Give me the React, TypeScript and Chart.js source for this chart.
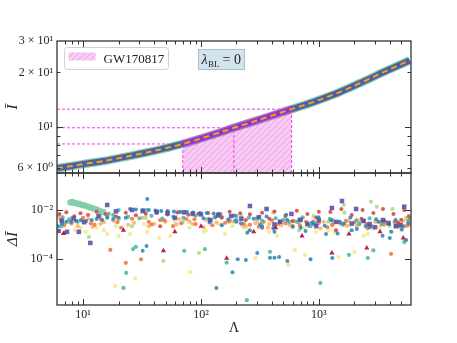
import React, { useEffect, useRef } from "react";
import { Chart, registerables } from "chart.js";

Chart.register(...registerables);

const W = 457;
const H = 343;
const SERIF = "'Liberation Serif', 'DejaVu Serif', 'Times New Roman', serif";

// axis limits
const X_MIN = 6;
const X_MAX = 6050;
const YT_MIN = 5.6;
const YT_MAX = 29.8;
const YB_MIN = 1.4e-6;
const YB_MAX = 0.316;

// tick labels
const xTickVals = [10, 100, 1000];
const xTickLabels = ["10¹", "10²", "10³"];
const topTickVals = [6, 10, 20, 30];
const topTickLabels = ["6 × 10⁰", "10¹", "2 × 10¹", "3 × 10¹"];
const botTickVals = [1e-4, 1e-2];
const botTickLabels = ["10⁻⁴", "10⁻²"];

// I-Love curve (top panel)
const curveLambda = [6, 8, 10, 15, 21, 30, 41, 55, 70, 100, 140, 190, 270, 380, 587, 800, 1000, 1500, 2200, 3600, 5900];
const curveIbar = [5.94, 6.12, 6.27, 6.52, 6.8, 7.12, 7.44, 7.78, 8.09, 8.67, 9.29, 9.93, 10.67, 11.46, 12.57, 13.4, 14.1, 15.6, 17.4, 20.2, 23.3];

// GW170817 bounds
const gwLambda = [70, 190, 587];
const gwIbar = [8.09, 9.93, 12.57];

// residuals (bottom panel)
const redL = [6.3, 7.2, 8.4, 9.5, 11, 13, 15.5, 19, 23, 28, 34, 42, 52, 63, 78, 95, 115, 140, 175, 215, 260, 330, 420, 520, 650, 800, 1000, 1250, 1550, 1900, 2350, 2900, 3500, 4300, 5300, 5800, 7, 45, 330, 1400, 2600, 4700, 150, 240, 380, 600, 950, 1500, 2300, 3600, 5000];
const redV = [6.8e-3, 8.1e-3, 5.6e-3, 7.4e-3, 6.2e-3, 8.4e-3, 6.9e-3, 5.5e-3, 7.7e-3, 6.1e-3, 7.0e-3, 7.5e-3, 6.6e-3, 7.9e-3, 6.4e-3, 7.1e-3, 7.6e-3, 6.8e-3, 8.5e-3, 7.3e-3, 6.7e-3, 7.8e-3, 8.6e-3, 5.8e-3, 9.2e-3, 6.9e-3, 8.4e-3, 8.2e-3, 1.1e-2, 6.3e-3, 1.0e-2, 7.5e-3, 1.1e-2, 6.8e-3, 1.0e-2, 5.6e-3, 1.2e-3, 2.2e-3, 1.9e-3, 1.5e-3, 2.6e-3, 3.1e-3, 4.8e-3, 3.9e-3, 4.4e-3, 3.6e-3, 4.9e-3, 3.2e-3, 4.4e-3, 3.6e-3, 4.0e-3];

const crimsonL = [6.8, 22, 48, 60, 100, 165, 280, 430, 720, 1290, 1800, 2550, 3300, 5200];
const crimsonV = [1.1e-3, 1.5e-3, 2.2e-4, 1.3e-3, 2.2e-3, 1.1e-4, 1.3e-3, 1.9e-3, 8.9e-4, 1.8e-4, 1.07e-3, 2.9e-4, 1.3e-3, 7.3e-4];

const orangeL = [6.5, 8, 10, 12.5, 17, 21, 23, 31, 36, 45, 58, 75, 90, 120, 160, 200, 260, 340, 450, 600, 780, 1000, 1300, 1700, 2200, 2800, 3400, 4100, 5000, 5700, 6.9, 8.8, 11.6, 14.2, 19.5, 26, 38, 49, 68, 88, 125, 175, 230, 310, 400, 520, 690, 900, 1180, 1540, 2000, 2600, 3400, 4400, 5600];
const orangeV = [3.9e-3, 3.0e-3, 4.8e-3, 2.5e-3, 2.4e-4, 1.9e-3, 7.1e-5, 1.0e-4, 3.3e-3, 3.9e-3, 2.2e-3, 4.3e-3, 2.7e-3, 3.6e-3, 3.0e-3, 3.9e-3, 2.5e-3, 3.3e-3, 2.7e-3, 2.2e-3, 3.3e-3, 3.0e-3, 2.5e-3, 3.6e-3, 2.7e-3, 2.2e-3, 3.3e-3, 1.66e-4, 2.7e-3, 3.6e-3, 2.5e-3, 3.6e-3, 2.9e-3, 4.1e-3, 3.2e-3, 4.4e-3, 2.6e-3, 3.7e-3, 2.9e-3, 4.2e-3, 2.4e-3, 3.5e-3, 2.8e-3, 2.1e-3, 3.8e-3, 2.9e-3, 2.4e-3, 3.4e-3, 2.0e-3, 2.8e-3, 3.1e-3, 1.8e-3, 2.6e-3, 3.3e-3, 2.3e-3];

const lorangeL = [6.2, 7.5, 9, 11, 14, 18, 24, 32, 40, 50, 65, 85, 110, 150, 190, 240, 300, 380, 470, 560, 680, 820, 950, 1100, 1300, 1500, 1800, 2100, 2500, 3000, 3600, 4400, 5200, 5900, 6.4, 7.9, 9.8, 12, 15, 20, 27, 36, 47, 62, 80, 105, 135, 175, 225, 290, 370, 480, 620, 800, 1030, 1330, 1720, 2220, 2870, 3700, 4780, 5900];
const lorangeV = [5.7e-3, 3.3e-3, 2.2e-3, 4.3e-3, 2.7e-3, 3.6e-3, 2.5e-3, 4.8e-3, 2.7e-3, 3.3e-3, 4.3e-3, 2.7e-3, 3.9e-3, 2.5e-3, 3.3e-3, 2.2e-3, 3.6e-3, 2.7e-3, 3.3e-3, 2.5e-3, 3.0e-3, 2.2e-3, 2.7e-3, 3.3e-3, 2.5e-3, 3.0e-3, 3.6e-3, 2.2e-3, 2.7e-3, 3.3e-3, 2.5e-3, 3.0e-3, 3.6e-3, 4.3e-3, 4.4e-3, 2.8e-3, 3.7e-3, 2.1e-3, 3.2e-3, 4.6e-3, 3.0e-3, 2.2e-3, 3.9e-3, 2.6e-3, 3.4e-3, 2.0e-3, 3.1e-3, 4.0e-3, 2.4e-3, 2.9e-3, 1.9e-3, 2.4e-3, 3.5e-3, 2.6e-3, 1.8e-3, 2.9e-3, 2.3e-3, 3.2e-3, 1.9e-3, 2.8e-3, 2.0e-3, 2.5e-3];

const yellowL = [6.8, 8.5, 10.5, 13, 16, 18.7, 20, 27.6, 35, 55, 81, 110, 160, 230, 290, 380, 550, 625, 760, 950, 1200, 1470, 2000, 2600, 3300, 4200, 5400];
const yellowV = [2.2e-3, 1.5e-3, 1.3e-3, 1.9e-3, 1.07e-3, 8.3e-6, 8.9e-4, 1.7e-5, 1.3e-3, 8.9e-4, 3.0e-5, 1.5e-3, 1.07e-3, 1.9e-3, 1.13e-4, 1.3e-3, 5.9e-5, 2.4e-4, 1.5e-4, 1.3e-3, 1.5e-3, 1.24e-4, 2.0e-4, 1.07e-3, 1.9e-3, 1.3e-3, 2.2e-3];

const paleL = [7, 9.5, 12, 15, 19, 25, 33, 44, 60, 80, 105, 140, 185, 250, 330, 440, 580, 750, 1000, 1350, 1800, 2400, 3100, 4000, 5000];
const paleV = [2.7e-3, 1.9e-3, 3.3e-3, 1.5e-3, 2.2e-3, 1.07e-3, 2.7e-3, 7.3e-4, 3.3e-3, 1.9e-3, 1.3e-3, 2.7e-3, 2.2e-3, 1.5e-3, 3.3e-3, 8.9e-4, 2.7e-3, 1.9e-3, 3.3e-3, 1.3e-3, 2.2e-3, 8.9e-4, 3.3e-3, 2.2e-3, 1.5e-3];

const lgreenL = [8, 11.2, 14, 20, 26, 34, 48, 70, 96, 130, 170, 220, 300, 410, 520, 680, 900, 1200, 1630, 1650, 2100, 2770, 3100, 4200, 5500];
const lgreenV = [4.8e-3, 8.1e-4, 5.7e-3, 3.9e-3, 2.2e-3, 4.8e-3, 8.6e-5, 3.3e-3, 1.8e-4, 4.8e-3, 3.3e-3, 5.7e-3, 3.9e-3, 7.8e-3, 4.8e-3, 1.5e-3, 5.7e-3, 3.3e-3, 1.6e-2, 7.8e-3, 3.9e-3, 2.2e-2, 1.36e-2, 1.1e-2, 4.8e-3];

const streakL = [7.8, 8.1, 8.5, 8.9, 9.3, 9.8, 10.3, 10.9, 11.5, 12.2, 13, 13.8, 14.8];
const streakV = [2.0e-2, 2.1e-2, 1.9e-2, 1.83e-2, 1.75e-2, 1.6e-2, 1.52e-2, 1.39e-2, 1.26e-2, 1.15e-2, 1.05e-2, 9.1e-3, 8.3e-3];

const tealL = [6.5, 9, 16, 20, 22, 23.2, 26.5, 28, 34, 42, 52, 65, 72, 85, 108, 140, 165, 200, 245, 300, 385, 500, 650, 850, 1030, 1300, 1800, 2200, 2600, 2900, 3600, 4500, 5300, 6.7, 7.6, 16.5, 18, 24, 30, 38, 47, 58, 71, 90, 115, 150, 195, 255, 330, 430, 560, 730, 950, 1240, 1600, 2080, 2700, 3500, 4550, 5900];
const tealV = [2.2e-3, 3.3e-3, 5.7e-3, 1.0e-2, 6.9e-6, 2.8e-5, 2.6e-4, 3.2e-4, 1.0e-2, 9.1e-3, 8.3e-3, 8.3e-3, 2.2e-4, 7.6e-3, 2.6e-4, 6.9e-3, 7.3e-5, 5.7e-3, 2.2e-6, 4.8e-3, 2.0e-4, 3.9e-3, 3.3e-3, 2.2e-3, 1.1e-5, 3.9e-3, 1.5e-4, 2.7e-3, 1.13e-4, 2.3e-4, 3.3e-3, 2.2e-3, 5.0e-4, 5.0e-3, 4.2e-3, 7.0e-3, 6.2e-3, 5.3e-3, 4.6e-3, 5.8e-3, 4.5e-3, 5.4e-3, 4.8e-3, 5.9e-3, 4.4e-3, 5.2e-3, 3.8e-3, 4.9e-3, 3.6e-3, 4.6e-3, 3.3e-3, 5.0e-3, 2.9e-3, 4.4e-3, 2.5e-3, 3.7e-3, 4.6e-3, 2.7e-3, 3.4e-3, 4.2e-3];

const blueL = [6.1, 6.6, 7.2, 7.9, 8.7, 9.6, 10.6, 11.8, 13, 14.5, 16, 18, 20, 23, 25, 28, 32, 36, 41, 46, 52, 59, 67, 76, 86, 98, 112, 128, 146, 35, 135, 185, 205, 240, 300, 385, 420, 460, 540, 850, 1300, 4000, 5500, 32, 34.5, 200, 260, 330, 420, 540, 700, 900, 1150, 1500, 1900, 2500, 3200, 4100, 5200, 105, 118, 132, 150, 170, 192, 218, 247, 280, 318, 360, 410, 465, 528, 600, 680, 770, 875, 990, 1120, 1270, 1440, 1630, 1850, 2100, 2380, 2700, 3060, 3470, 3940, 4470, 5070, 5750];
const blueV = [2.2e-3, 2.7e-3, 3.3e-3, 3.3e-3, 3.6e-3, 3.9e-3, 3.6e-3, 3.9e-3, 4.3e-3, 3.9e-3, 4.8e-3, 4.3e-3, 4.8e-3, 4.8e-3, 1.1e-2, 1.05e-2, 1.0e-2, 1.0e-2, 9.5e-3, 9.1e-3, 9.1e-3, 8.7e-3, 8.3e-3, 8.3e-3, 7.9e-3, 7.6e-3, 7.6e-3, 7.2e-3, 6.9e-3, 2.8e-2, 6.9e-6, 3.0e-5, 1.0e-4, 9.3e-5, 1.8e-4, 1.15e-4, 1.15e-4, 1.25e-4, 8.5e-5, 1.0e-4, 1.13e-4, 7.3e-4, 6.1e-4, 2.2e-4, 3.5e-4, 3.3e-3, 1.5e-3, 2.2e-3, 1.3e-3, 3.9e-3, 1.9e-3, 2.7e-3, 1.07e-3, 3.3e-3, 1.5e-3, 2.2e-3, 3.3e-3, 1.3e-3, 2.2e-3, 4.6e-3, 3.1e-3, 5.2e-3, 2.4e-3, 4.1e-3, 6.0e-3, 2.9e-3, 1.2e-3, 4.4e-3, 2.6e-3, 5.5e-3, 1.8e-3, 3.4e-3, 6.4e-3, 2.1e-3, 4.0e-3, 1.4e-3, 3.0e-3, 5.1e-3, 2.3e-3, 3.8e-3, 1.1e-3, 2.8e-3, 4.9e-3, 1.7e-3, 3.5e-3, 2.0e-3, 4.2e-3, 9.0e-4, 2.6e-3, 3.9e-3, 1.6e-3, 2.9e-3];

const indigoL = [6.2, 7.3, 9.2, 11.5, 16, 26, 42, 60, 85, 120, 180, 260, 360, 470, 585, 800, 1000, 1290, 1570, 2070, 2700, 3500, 4500, 5300, 6.6, 8.3, 10.2, 13.5, 19, 32, 52, 72, 100, 140, 220, 310, 420, 700, 950, 1400, 1900, 2400, 3000, 3900, 4900];
const indigoV = [1.4e-3, 1.3e-3, 1.3e-3, 4.6e-4, 1.6e-2, 1.0e-2, 8.3e-3, 4.8e-3, 6.9e-3, 3.9e-3, 5.7e-3, 1.45e-2, 1.1e-2, 3.3e-3, 6.9e-3, 2.7e-3, 3.9e-3, 1.2e-2, 2.3e-2, 1.1e-2, 2.7e-3, 3.9e-3, 2.2e-3, 1.36e-2, 3.6e-3, 4.5e-3, 3.2e-3, 5.6e-3, 8.8e-3, 9.0e-3, 7.4e-3, 8.0e-3, 6.6e-3, 6.0e-3, 4.4e-3, 5.1e-3, 2.6e-3, 4.0e-3, 2.2e-3, 3.3e-3, 2.8e-3, 3.6e-3, 2.0e-3, 3.0e-3, 2.4e-3];

const pts = (xs: number[], ys: number[]) => xs.map((x, i) => ({ x, y: ys[i] }));

function makeHatch(ctx: CanvasRenderingContext2D) {
  const c = document.createElement("canvas");
  c.width = 6;
  c.height = 6;
  const g = c.getContext("2d")!;
  g.fillStyle = "#f8caf4";
  g.fillRect(0, 0, 6, 6);
  g.strokeStyle = "#e4a0de";
  g.lineWidth = 0.9;
  g.beginPath();
  g.moveTo(0, 6); g.lineTo(6, 0);
  g.moveTo(-1, 1); g.lineTo(1, -1);
  g.moveTo(5, 7); g.lineTo(7, 5);
  g.stroke();
  return ctx.createPattern(c, "repeat")!;
}

function minorDecades(min: number, max: number) {
  const out: number[] = [];
  for (let d = 1; d <= 1e4; d *= 10) {
    for (let k = 2; k <= 9; k++) {
      const v = k * d;
      if (v > min && v < max) out.push(v);
    }
  }
  return out;
}

function framePlugin(id: string, yMajor: number[], yMinor: number[]) {
  const xMajor = xTickVals;
  const xMinor = minorDecades(X_MIN, X_MAX);
  return {
    id,
    afterDatasetsDraw(chart: any) {
      const { ctx, chartArea: a } = chart;
      const xs = chart.scales.x;
      const ys = chart.scales.y;
      ctx.save();
      ctx.strokeStyle = "#333";
      ctx.lineWidth = 1;
      ctx.beginPath();
      const vx = (vals: number[], len: number) =>
        vals.forEach((v) => {
          const p = Math.round(xs.getPixelForValue(v)) + 0.5;
          if (p < a.left + 1 || p > a.right - 1) return;
          ctx.moveTo(p, a.bottom);
          ctx.lineTo(p, a.bottom - len);
          ctx.moveTo(p, a.top);
          ctx.lineTo(p, a.top + len);
        });
      const hy = (vals: number[], len: number) =>
        vals.forEach((v) => {
          const p = Math.round(ys.getPixelForValue(v)) + 0.5;
          if (p < a.top + 1 || p > a.bottom - 1) return;
          ctx.moveTo(a.left, p);
          ctx.lineTo(a.left + len, p);
          ctx.moveTo(a.right, p);
          ctx.lineTo(a.right - len, p);
        });
      vx(xMajor, 6);
      vx(xMinor, 3.5);
      hy(yMajor, 6);
      hy(yMinor, 3.5);
      ctx.stroke();
      ctx.lineWidth = 1.3;
      ctx.strokeRect(a.left, a.top, a.right - a.left, a.bottom - a.top);
      ctx.restore();
    },
  };
}

export default function App() {
  const topRef = useRef<HTMLCanvasElement | null>(null);
  const botRef = useRef<HTMLCanvasElement | null>(null);

  useEffect(() => {
    const topCanvas = topRef.current!;
    const botCanvas = botRef.current!;
    const hatch = makeHatch(topCanvas.getContext("2d")!);

    const curve = pts(curveLambda, curveIbar);
    const gwLo = gwLambda[0];
    const gwHi = gwLambda[gwLambda.length - 1];
    const gwCurve = curve.filter((p) => p.x >= gwLo && p.x <= gwHi);

    const hLines = gwLambda.map((l, i) => ({
      data: [{ x: X_MIN, y: gwIbar[i] }, { x: l, y: gwIbar[i] }],
      borderColor: "#f03cf0",
      borderWidth: 1,
      borderDash: [3, 2],
      pointRadius: 0,
      fill: false,
    }));
    const vLines = gwLambda.map((l, i) => ({
      data: [{ x: l, y: YT_MIN }, { x: l, y: gwIbar[i] }],
      borderColor: "#f03cf0",
      borderWidth: 1,
      borderDash: [3, 2],
      pointRadius: 0,
      fill: false,
    }));

    const legendPlugin = {
      id: "legendBox",
      afterDraw(chart: any) {
        const { ctx, chartArea: a } = chart;
        ctx.save();
        const bx = a.left + 7.5, by = a.top + 6.5, bw = 104, bh = 22;
        ctx.beginPath();
        ctx.moveTo(bx + 3, by);
        ctx.arcTo(bx + bw, by, bx + bw, by + bh, 3);
        ctx.arcTo(bx + bw, by + bh, bx, by + bh, 3);
        ctx.arcTo(bx, by + bh, bx, by, 3);
        ctx.arcTo(bx, by, bx + bw, by, 3);
        ctx.closePath();
        ctx.fillStyle = "rgba(255,255,255,0.85)";
        ctx.fill();
        ctx.strokeStyle = "#d0d0d0";
        ctx.lineWidth = 1;
        ctx.stroke();
        ctx.fillStyle = hatch;
        ctx.fillRect(bx + 4, by + 5, 27, 8);
        ctx.fillStyle = "#222";
        ctx.font = `13px ${SERIF}`;
        ctx.textBaseline = "alphabetic";
        ctx.fillText("GW170817", bx + 39, by + 15);

        // lambda_BL box
        const tx = 198.5, ty = 49.5, tw = 46, th = 20;
        ctx.fillStyle = "#d3e4ef";
        ctx.fillRect(tx, ty, tw, th);
        ctx.strokeStyle = "#a9bfcf";
        ctx.strokeRect(tx, ty, tw, th);
        ctx.fillStyle = "#222";
        let x = tx + 3;
        const base = ty + 14.5;
        ctx.font = `italic 14px ${SERIF}`;
        ctx.fillText("λ", x, base);
        x += ctx.measureText("λ").width + 0.5;
        ctx.font = `9px ${SERIF}`;
        ctx.fillText("BL", x, base + 3);
        x += ctx.measureText("BL").width + 3;
        ctx.font = `14px ${SERIF}`;
        ctx.fillText("= 0", x, base);
        ctx.restore();
      },
    };

    const axisFont = { family: SERIF, size: 12 };
    const lineOpts = { pointRadius: 0, fill: false, cubicInterpolationMode: "monotone" };

    const top = new Chart(topCanvas, {
      type: "line",
      data: {
        datasets: [
          { data: curve, borderColor: "#ffa10a", borderWidth: 2, borderDash: [6, 4], ...lineOpts },
          { data: gwCurve, borderColor: "rgba(120,62,190,0.9)", borderWidth: 4.5, ...lineOpts },
          { data: gwCurve, borderColor: "rgba(225,60,230,0.8)", borderWidth: 7.5, ...lineOpts },
          { data: curve, borderColor: "#4c5ea8", borderWidth: 6, ...lineOpts },
          { data: curve, borderColor: "rgba(120,200,165,0.9)", borderWidth: 8.5, ...lineOpts },
          ...hLines,
          ...vLines,
          {
            data: gwCurve,
            borderWidth: 0,
            borderColor: "rgba(0,0,0,0)",
            pointRadius: 0,
            fill: "start",
            backgroundColor: hatch,
            cubicInterpolationMode: "monotone",
          },
        ] as any,
      },
      options: {
        responsive: false,
        animation: false,
        devicePixelRatio: 1,
        layout: { padding: { left: 0, right: 46, top: 41, bottom: 170 } },
        plugins: { legend: { display: false }, tooltip: { enabled: false } },
        scales: {
          x: { type: "logarithmic", min: X_MIN, max: X_MAX, display: false },
          y: {
            type: "logarithmic",
            min: YT_MIN,
            max: YT_MAX,
            afterFit: (s: any) => { s.width = 57; },
            afterBuildTicks: (s: any) => { s.ticks = topTickVals.map((v) => ({ value: v })); },
            grid: { display: false, drawTicks: false },
            border: { display: false },
            ticks: {
              autoSkip: false,
              padding: 4,
              color: "#222",
              font: axisFont,
              callback: (_v: any, i: number) => topTickLabels[i],
            },
            title: {
              display: true,
              text: "Ī",
              color: "#222",
              font: { family: SERIF, size: 15, style: "italic" },
              padding: { top: 4, bottom: 0 },
            },
          },
        },
      } as any,
      plugins: [framePlugin("frameTop", [10], [6, 7, 8, 9, 20]), legendPlugin],
    });

    const sc = (xs: number[], ys: number[], color: string, style: string, r: number) => ({
      data: pts(xs, ys),
      backgroundColor: color,
      borderWidth: 0,
      pointStyle: style,
      pointRadius: r,
    });

    const bot = new Chart(botCanvas, {
      type: "scatter",
      data: {
        datasets: [
          sc(crimsonL, crimsonV, "rgba(180,20,70,0.95)", "triangle", 3),
          sc(indigoL, indigoV, "rgba(88,82,170,0.9)", "rect", 3.2),
          sc(blueL, blueV, "rgba(50,136,189,0.9)", "circle", 2),
          sc(redL, redV, "rgba(220,70,70,0.9)", "circle", 2),
          sc(tealL, tealV, "rgba(80,185,160,0.9)", "circle", 2.1),
          sc(orangeL, orangeV, "rgba(244,120,70,0.9)", "circle", 2.1),
          sc(lgreenL, lgreenV, "rgba(171,221,140,0.9)", "circle", 2.1),
          sc(lorangeL, lorangeV, "rgba(253,174,97,0.85)", "circle", 2.1),
          sc(paleL, paleV, "rgba(225,240,150,0.9)", "circle", 2.1),
          sc(yellowL, yellowV, "rgba(254,230,140,0.95)", "circle", 2.1),
          sc(streakL, streakV, "rgba(130,205,170,0.95)", "circle", 3.2),
        ] as any,
      },
      options: {
        responsive: false,
        animation: false,
        devicePixelRatio: 1,
        layout: { padding: { left: 0, right: 46, top: 173, bottom: 0 } },
        plugins: { legend: { display: false }, tooltip: { enabled: false } },
        scales: {
          x: {
            type: "logarithmic",
            min: X_MIN,
            max: X_MAX,
            afterFit: (s: any) => { s.height = 38; },
            afterBuildTicks: (s: any) => { s.ticks = xTickVals.map((v) => ({ value: v })); },
            grid: { display: false, drawTicks: false },
            border: { display: false },
            ticks: {
              autoSkip: false,
              maxRotation: 0,
              padding: 3,
              color: "#222",
              font: axisFont,
              callback: (_v: any, i: number) => xTickLabels[i],
            },
            title: {
              display: true,
              text: "Λ",
              color: "#222",
              font: { family: SERIF, size: 14 },
              padding: { top: 0, bottom: 6 },
            },
          },
          y: {
            type: "logarithmic",
            min: YB_MIN,
            max: YB_MAX,
            afterFit: (s: any) => { s.width = 57; },
            afterBuildTicks: (s: any) => { s.ticks = botTickVals.map((v) => ({ value: v })); },
            grid: { display: false, drawTicks: false },
            border: { display: false },
            ticks: {
              autoSkip: false,
              padding: 4,
              color: "#222",
              font: axisFont,
              callback: (_v: any, i: number) => botTickLabels[i],
            },
            title: {
              display: true,
              text: "ΔĪ",
              color: "#222",
              font: { family: SERIF, size: 15, style: "italic" },
              padding: { top: 4, bottom: 0 },
            },
          },
        },
      } as any,
      plugins: [framePlugin("frameBot", botTickVals, [])],
    });

    return () => {
      top.destroy();
      bot.destroy();
    };
  }, []);

  return (
    <div style={{ position: "absolute", left: 0, top: 0, width: W, height: H, background: "#fff" }}>
      <canvas ref={topRef} width={W} height={H} style={{ position: "absolute", left: 0, top: 0 }} />
      <canvas ref={botRef} width={W} height={H} style={{ position: "absolute", left: 0, top: 0 }} />
    </div>
  );
}
